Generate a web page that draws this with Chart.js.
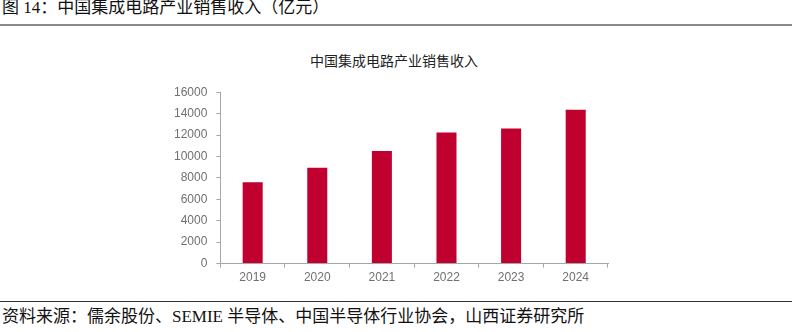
<!DOCTYPE html>
<html>
<head>
<meta charset="utf-8">
<script src="https://cdn.jsdelivr.net/npm/chart.js@4/dist/chart.umd.min.js"></script>
<style>
  html, body { margin: 0; padding: 0; background: #fff; }
  body { width: 792px; height: 332px; position: relative; overflow: hidden; }
  .cap { position: absolute; left: 2px; font-family: "Liberation Serif", "Noto Sans CJK SC", serif; font-size: 17px; color: #111; white-space: nowrap; line-height: 20px; }
  #head { top: -2px; }
  #foot { top: 307px; }
  .rule { position: absolute; left: 0; width: 792px; }
  #rule1 { top: 24px; height: 2px; background: #8a8a8a; }
  #rule2 { top: 301px; height: 1px; background: #333; }
  #ctitle { position: absolute; left: 294px; width: 200px; top: 50px; line-height: 20px; text-align: center;
            font-family: "Noto Sans CJK SC", sans-serif; font-size: 14px; color: #222; white-space: nowrap; }
  #box { position: absolute; left: 165px; top: 76px; width: 455px; height: 212px; }
</style>
</head>
<body>
<div class="cap" id="head">图 14：中国集成电路产业销售收入（亿元）</div>
<div class="rule" id="rule1"></div>
<div id="ctitle"></div>
<div id="box"><canvas id="c"></canvas></div>
<div class="rule" id="rule2"></div>
<div class="cap" id="foot">资料来源：儒余股份、SEMIE 半导体、中国半导体行业协会，山西证券研究所</div>
<script>
// 中国集成电路产业销售收入（亿元）
const years = ["2019", "2020", "2021", "2022", "2023", "2024"];
const sales = [7600, 8950, 10520, 12230, 12620, 14370];
const yTicks = [0, 2000, 4000, 6000, 8000, 10000, 12000, 14000, 16000];
const chartTitle = "中国集成电路产业销售收入";

const axisGray = "#a6a6a6";
const labelGray = "#707070";

document.getElementById("ctitle").textContent = chartTitle;

new Chart(document.getElementById("c"), {
  type: "bar",
  data: {
    labels: years,
    datasets: [{
      label: chartTitle,
      data: sales,
      backgroundColor: "#c0002f",
      barPercentage: 0.31,
      categoryPercentage: 1.0
    }]
  },
  options: {
    responsive: true,
    maintainAspectRatio: false,
    animation: false,
    layout: { padding: { left: 0, right: 12, top: 0, bottom: 0 } },
    plugins: {
      legend: { display: false },
      tooltip: { enabled: false },
      title: { display: false }
    },
    scales: {
      x: {
        grid: { display: true, drawOnChartArea: false, drawTicks: true, tickLength: 4, color: axisGray, offset: true },
        border: { display: true, color: axisGray, width: 1 },
        ticks: { color: labelGray, font: { family: "'Liberation Sans', Arial, sans-serif", size: 12 }, padding: 3 }
      },
      y: {
        min: 0,
        max: 16000,
        afterBuildTicks: (axis) => { axis.ticks = yTicks.map(v => ({ value: v })); },
        grid: { display: true, drawOnChartArea: false, drawTicks: true, tickLength: 4, color: axisGray },
        border: { display: true, color: axisGray, width: 1 },
        ticks: {
          color: labelGray,
          font: { family: "'Liberation Sans', Arial, sans-serif", size: 12 },
          padding: 9,
          callback: (v) => String(v)
        }
      }
    }
  }
});
</script>
</body>
</html>
